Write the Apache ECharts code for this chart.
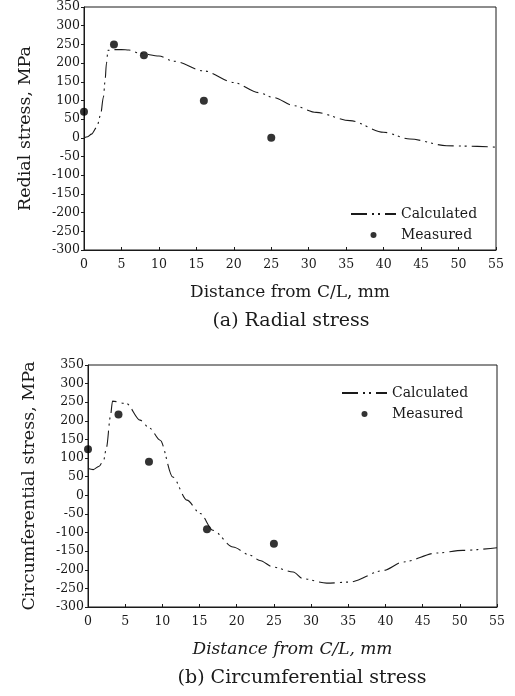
<!DOCTYPE html>
<html>
<head>
<meta charset="utf-8">
<script src="https://cdn.jsdelivr.net/npm/echarts@6/dist/echarts.min.js"></script>
<style>
  html, body { margin: 0; padding: 0; background: #fff; }
  #main { width: 515px; height: 696px; }
</style>
</head>
<body>
<div id="main"></div>
<script>
// data
const xTicks = [0, 55, 5]
const yTicks = [-300, 350, 50]

// (a) radial stress
const radialCalc = [
  [0, 0], [0.5, 3], [1, 10], [1.7, 28], [2.2, 60], [2.6, 110], [2.8, 150], [3.0, 200],
  [3.2, 234], [4, 236], [5, 236], [6, 235], [7.5, 226], [10, 219], [12, 205], [16, 179],
  [20, 148], [23.3, 121], [25.3, 108], [28, 86], [31, 68], [35.5, 46], [40, 15],
  [43.5, -3], [48.4, -21], [50.6, -22], [55, -25]
]
const radialMeas = [[0, 70], [4, 250], [8, 221], [16, 99], [25, 0]]

// (b) circumferential stress
const circCalc = [
  [0, 72], [0.7, 69], [1.5, 78], [2.1, 94], [2.5, 130], [3.0, 210], [3.3, 253], [5.2, 246],
  [7.0, 202], [8.3, 180], [9.7, 148], [11.4, 49], [13.3, -13], [15.1, -49], [16.8, -94],
  [19.5, -139], [21.8, -161], [23.1, -175], [24.9, -193], [27.6, -206], [28.9, -224],
  [32.1, -236], [35.2, -233], [39.7, -202], [42.4, -179], [46.9, -155], [50.4, -148], [55, -141]
]
const circMeas = [[0, 124], [4.1, 217], [8.2, 90], [16, -91], [25, -130]]

const seriesNames = ['Calculated', 'Measured']
const captions = ['(a) Radial stress', '(b) Circumferential stress']
const yNames = ['Redial stress, MPa', 'Circumferential stress, MPa']
const xName = 'Distance from C/L, mm'

let myChart = echarts.init(document.getElementById('main'))

const serif = 'DejaVu Serif'
const ink = '#1a1a1a'
const dashDot = [16, 5, 2, 4, 2, 5]

function xAxisFor(i, italic) {
  return {
    type: 'value', gridIndex: i,
    min: xTicks[0], max: xTicks[1], interval: xTicks[2],
    name: xName, nameLocation: 'middle', nameGap: 34,
    nameTextStyle: { fontFamily: serif, fontSize: 17, color: ink, fontStyle: italic ? 'italic' : 'normal' },
    axisLine: { onZero: false, lineStyle: { color: ink } },
    axisTick: { inside: true, length: 3, lineStyle: { color: ink } },
    axisLabel: { fontFamily: serif, fontSize: 12.5, color: ink, margin: 8 },
    splitLine: { show: false }
  }
}

function yAxisFor(i) {
  return {
    type: 'value', gridIndex: i,
    min: yTicks[0], max: yTicks[1], interval: yTicks[2],
    name: yNames[i], nameLocation: 'middle', nameGap: 50,
    nameTextStyle: { fontFamily: serif, fontSize: 17.5, color: ink },
    axisLine: { onZero: false, lineStyle: { color: ink } },
    axisTick: { length: 3, lineStyle: { color: ink } },
    axisLabel: { fontFamily: serif, fontSize: 12.5, color: ink, margin: 4 },
    splitLine: { show: false }
  }
}

function calcSeries(i, data) {
  return {
    name: seriesNames[0], type: 'line', xAxisIndex: i, yAxisIndex: i,
    data: data, symbol: 'none', smooth: 0.3, smoothMonotone: 'x',
    itemStyle: { color: ink },
    lineStyle: { color: ink, width: 1.1, type: dashDot }
  }
}

function measSeries(i, data) {
  return {
    name: seriesNames[1], type: 'scatter', xAxisIndex: i, yAxisIndex: i,
    data: data, symbol: 'circle', symbolSize: 8,
    itemStyle: { color: '#000' }
  }
}

function legendFor(left, top) {
  return {
    left: left, top: top, orient: 'vertical', itemWidth: 45, itemHeight: 6, itemGap: 7,
    textStyle: { fontFamily: serif, fontSize: 14, color: ink },
    data: [
      { name: seriesNames[0], itemStyle: { opacity: 0 } },
      { name: seriesNames[1], icon: 'circle' }
    ]
  }
}

let option = {
  animation: false,
  title: [
    { text: captions[0], left: 286, top: 307, textAlign: 'center',
      textStyle: { fontFamily: serif, fontSize: 19, fontWeight: 'normal', color: ink } },
    { text: captions[1], left: 297, top: 664, textAlign: 'center',
      textStyle: { fontFamily: serif, fontSize: 19, fontWeight: 'normal', color: ink } }
  ],
  legend: [legendFor(345, 202), legendFor(336, 381)],
  grid: [
    { left: 84, top: 7, width: 412, height: 243, show: true, borderColor: ink, borderWidth: 1 },
    { left: 88, top: 365, width: 409, height: 242, show: true, borderColor: ink, borderWidth: 1 }
  ],
  xAxis: [xAxisFor(0, false), xAxisFor(1, true)],
  yAxis: [yAxisFor(0), yAxisFor(1)],
  series: [
    calcSeries(0, radialCalc),
    measSeries(0, radialMeas),
    calcSeries(1, circCalc),
    measSeries(1, circMeas)
  ]
}

myChart.setOption(option)
</script>
</body>
</html>
